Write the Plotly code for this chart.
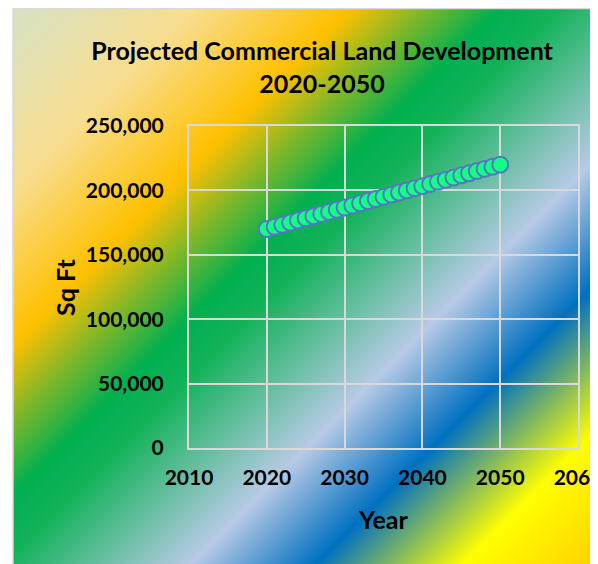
import base64
import plotly.graph_objects as go

years = list(range(2020, 2051))
sq_ft = [170000, 171700, 173300, 175000, 176700, 178300, 180000, 181700,
         183300, 185000, 186700, 188300, 190000, 191700, 193300, 195000,
         196700, 198300, 200000, 201700, 203300, 205000, 206700, 208300,
         210000, 211700, 213300, 215000, 216700, 218300, 220000]
x_ticks = [2010, 2020, 2030, 2040, 2050, 2060]
y_ticks = [0, 50000, 100000, 150000, 200000, 250000]
y_tick_labels = ["0", "50,000", "100,000", "150,000", "200,000", "250,000"]

title_text = "Projected Commercial Land Development<br>2020-2050"

# page renders the figure at an 8px body offset; work in figure coordinates
OFF = 8
W, H = 598 - OFF, 564 - OFF
L, R, T, B = 189 - OFF, 20, 126 - OFF, 116
pw, ph = W - L - R, H - T - B

cx0, cy0 = 13 - OFF, 0
cw, chh = W - cx0, H - cy0

stops = [(0.0, "#D6E2C6"), (0.157, "#F8DD8E"), (0.288, "#FFC000"),
         (0.416, "#00B050"), (0.465, "#12B258"), (0.627, "#B8CAE6"),
         (0.734, "#0070C0"), (0.86, "#FFFF00"), (1.0, "#FFC600")]
stop_xml = "".join(f"<stop offset='{o}' stop-color='{c}'/>" for o, c in stops)
svg = (f"<svg xmlns='http://www.w3.org/2000/svg' width='{cw}' height='{chh}' "
       f"viewBox='0 0 {cw} {chh}' preserveAspectRatio='none'>"
       f"<defs><linearGradient id='g' gradientUnits='userSpaceOnUse' "
       f"x1='0' y1='0' x2='585' y2='585'>{stop_xml}</linearGradient></defs>"
       f"<rect x='0' y='0' width='{cw}' height='{chh}' fill='url(#g)'/></svg>")
src = "data:image/svg+xml;base64," + base64.b64encode(svg.encode()).decode()

fig = go.Figure()
fig.add_trace(go.Scatter(
    x=years, y=sq_ft, mode="markers",
    marker=dict(size=16, color="#14FF88", line=dict(color="#5577C0", width=2)),
    cliponaxis=False, showlegend=False,
))

fig.add_layout_image(dict(
    source=src, xref="paper", yref="paper",
    x=(cx0 - L) / pw, y=(H - B - cy0) / ph,
    sizex=cw / pw, sizey=chh / ph,
    xanchor="left", yanchor="top", sizing="stretch", layer="below",
))

fig.add_shape(type="rect", xref="paper", yref="paper",
              x0=(cx0 - L) / pw, x1=(W + 5 - L) / pw,
              y0=(H - B - (H + 5)) / ph, y1=(H - B - 0.5) / ph,
              line=dict(color="#D9D9D9", width=1.5), layer="below")

bold = dict(family="Lato", color="black", weight="bold")
fig.update_layout(
    width=W, height=H,
    margin=dict(l=L, r=R, t=T, b=B, autoexpand=False),
    paper_bgcolor="white", plot_bgcolor="rgba(0,0,0,0)",
    title=dict(text=title_text, x=(322 - OFF) / W, xanchor="center",
               y=1 - (60 - OFF) / H, yanchor="middle", yref="container",
               font=dict(size=25, **bold)),
    xaxis=dict(range=[2010, 2060], tickvals=x_ticks, showgrid=True,
               gridcolor="#D9D9D9", gridwidth=2, showline=True, mirror=True,
               linecolor="#D9D9D9", linewidth=2, zeroline=False,
               tickfont=dict(size=21, **bold), ticklabelstandoff=10,
               ticklabeloverflow="allow", automargin=False),
    yaxis=dict(range=[0, 250000], tickvals=y_ticks, ticktext=y_tick_labels,
               showgrid=True, gridcolor="#D9D9D9", gridwidth=2,
               showline=True, mirror=True, linecolor="#D9D9D9", linewidth=2,
               zeroline=False, tickfont=dict(size=21, **bold),
               ticklabelstandoff=19, automargin=False),
    annotations=[
        dict(text="Sq Ft", xref="paper", yref="paper",
             x=(65 - 189) / pw, y=(448 - 287) / ph, textangle=-90,
             showarrow=False, xanchor="center", yanchor="middle",
             font=dict(size=25, **bold)),
        dict(text="Year", xref="paper", yref="paper",
             x=(383 - 189) / pw, y=(448 - 519) / ph,
             showarrow=False, xanchor="center", yanchor="middle",
             font=dict(size=25, **bold)),
    ],
)

fig.write_html("out.html")
